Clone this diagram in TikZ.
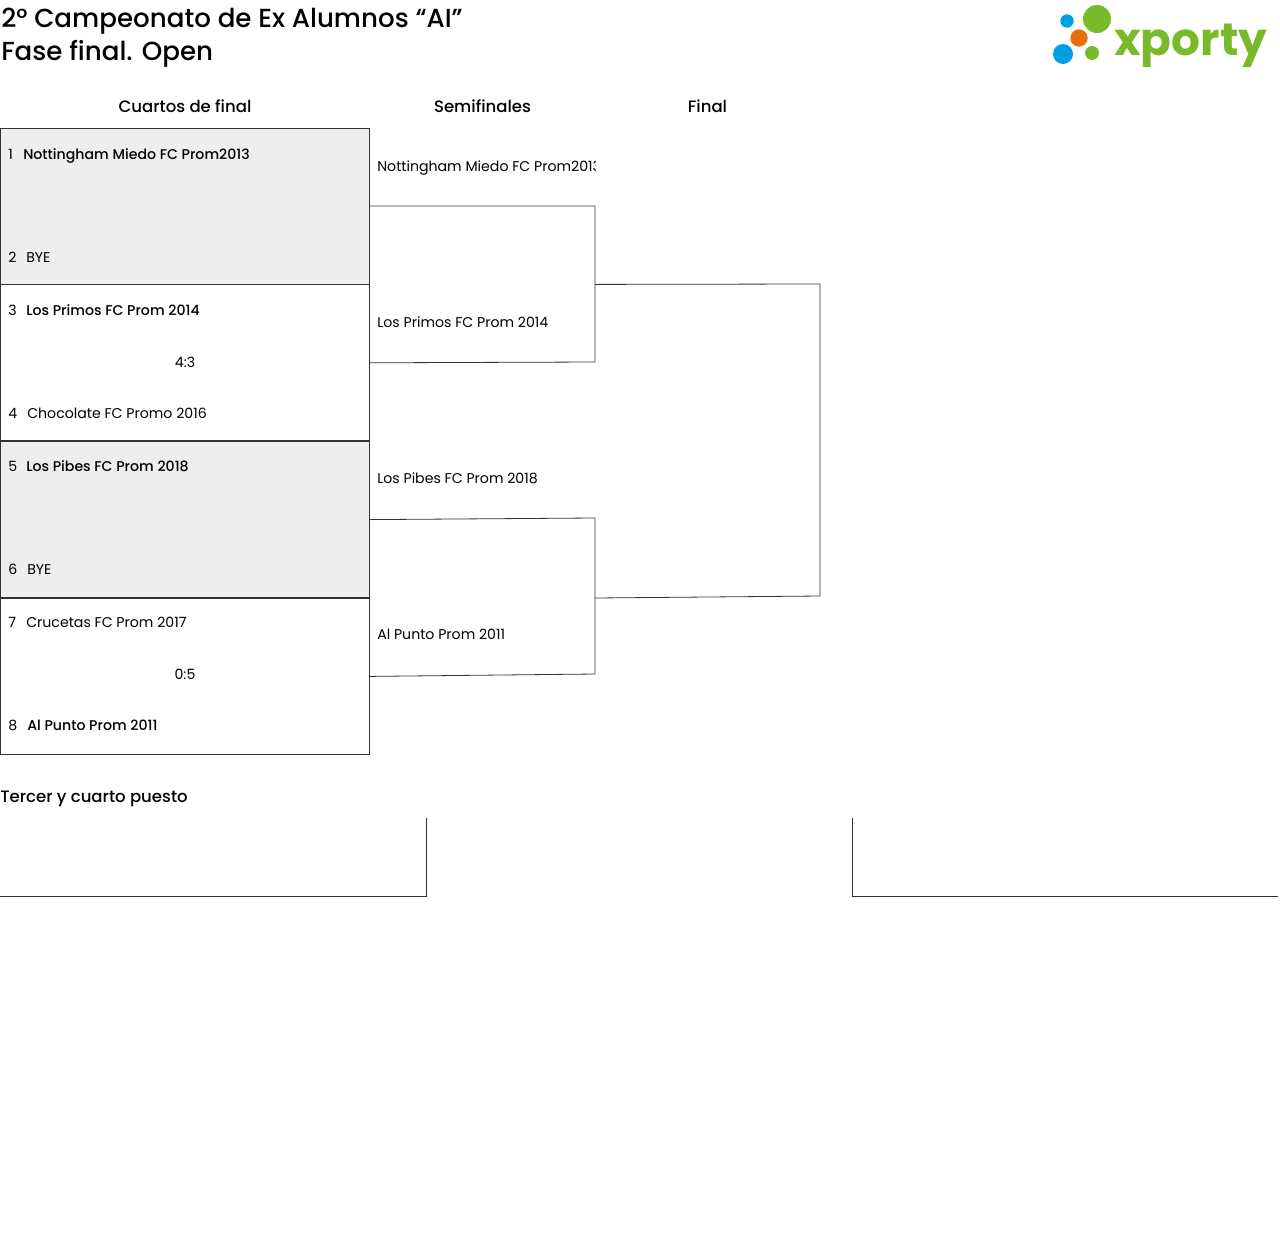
\documentclass[tikz,border=0pt]{standalone}
\usepackage{fontspec}
\setmainfont{Poppins}
\newfontfamily\medfont{Poppins Medium}
\usetikzlibrary{positioning}
\definecolor{byegray}{HTML}{EEEEEE}
\definecolor{linegray}{HTML}{333333}
\definecolor{xgreen}{HTML}{7AB929}
\definecolor{xblue}{HTML}{009FE3}
\definecolor{xorange}{HTML}{E8700C}
\tikzset{
	match/.style={draw=linegray, line width=0.6pt, minimum width=276.75pt, minimum height=117pt, inner sep=0pt},
	bye/.style={match, fill=byegray},
	bracket/.style={draw=linegray, line width=0.6pt},
	team/.style={anchor=base west, inner sep=0pt, font=\fontsize{10.6}{12}\selectfont},
	winner/.style={anchor=base west, inner sep=0pt, font=\medfont\fontsize{10.6}{12}\selectfont},
	score/.style={anchor=base, inner sep=0pt, font=\fontsize{10.6}{12}\selectfont},
	round/.style={anchor=base, inner sep=0pt, font=\medfont\fontsize{12.4}{14}\selectfont},
	headline/.style={anchor=base west, inner sep=0pt, font=\medfont\fontsize{19.6}{22}\selectfont},
	dot/.style={circle, inner sep=0pt, draw=none}
}
\begin{document}
\begin{tikzpicture}[x=0.75pt, y=-0.75pt]
	\useasboundingbox (0,0) rectangle (1280,1249);
	\node[headline] (title1) at (1,27) {2° Campeonato de Ex Alumnos “AI”};
	\node[headline] (title2) at (1,60) {Fase final. Open};
	% logo
	\node[dot, fill=xgreen, minimum size=21pt] (dot_a) at (1097,19) {};
	\node[dot, fill=xblue, minimum size=10pt] (dot_b) at (1067,21) {};
	\node[dot, fill=xorange, minimum size=13pt] (dot_c) at (1079,38) {};
	\node[dot, fill=xblue, minimum size=15pt] (dot_d) at (1063,54) {};
	\node[dot, fill=xgreen, minimum size=10.5pt] (dot_e) at (1092,53) {};
	\node[anchor=base west, inner sep=0pt, text=xgreen, font=\bfseries\fontsize{34}{36}\selectfont] (logo) at (1114,55) {xporty};
	% round names
	\node[round] (r_cuartos) at (185,112) {Cuartos de final};
	\node[round] (r_semi) at (482.5,112) {Semifinales};
	\node[round] (r_final) at (707.5,112) {Final};
	\node[round, anchor=base west] (r_tercer) at (0,802) {Tercer y cuarto puesto};
	% quarter finals
	\node[bye] (m_1) at (185,206) {};
	\node[match, below=0pt of m_1] (m_2) {};
	\node[bye, below=0pt of m_2] (m_3) {};
	\node[match, below=0pt of m_3] (m_4) {};
	\node[team] (n_1) at (8,159) {1};
	\node[winner] (t_1) at (23,159) {Nottingham Miedo FC Prom2013};
	\node[team] (n_2) at (8,262) {2};
	\node[team] (t_2) at (26,262) {BYE};
	\node[team] (n_3) at (8,315) {3};
	\node[winner] (t_3) at (26,315) {Los Primos FC Prom 2014};
	\node[score] (s_2) at (185,367) {4:3};
	\node[team] (n_4) at (8,418) {4};
	\node[team] (t_4) at (27,418) {Chocolate FC Promo 2016};
	\node[team] (n_5) at (8,471) {5};
	\node[winner] (t_5) at (26,471) {Los Pibes FC Prom 2018};
	\node[team] (n_6) at (8,574) {6};
	\node[team] (t_6) at (27,574) {BYE};
	\node[team] (n_7) at (8,627) {7};
	\node[team] (t_7) at (26,627) {Crucetas FC Prom 2017};
	\node[score] (s_4) at (185,679) {0:5};
	\node[team] (n_8) at (8,730) {8};
	\node[winner] (t_8) at (27,730) {Al Punto Prom 2011};
	% semifinals
	\coordinate (sf_1a) at (595,206);
	\coordinate (sf_1b) at (595,362);
	\coordinate (sf_2a) at (595,518);
	\coordinate (sf_2b) at (595,674);
	\coordinate (f_a) at (820,284);
	\coordinate (f_b) at (820,596);
	\draw[bracket] (m_1.east) -- (sf_1a) -- (sf_1b) -- (m_2.east);
	\draw[bracket] (m_3.east) -- (sf_2a) -- (sf_2b) -- (m_4.east);
	\draw[bracket] (sf_1a |- m_1.south) -- (f_a) -- (f_b) -- (sf_2a |- m_3.south);
	\begin{scope}
		\clip (370,130) rectangle (595,200);
		\node[team] (st_1) at (377,171) {Nottingham Miedo FC Prom2013};
	\end{scope}
	\node[team] (st_2) at (377,327) {Los Primos FC Prom 2014};
	\node[team] (st_3) at (377,483) {Los Pibes FC Prom 2018};
	\node[team] (st_4) at (377,639) {Al Punto Prom 2011};
	% third place
	\coordinate (p_a) at (0,896);
	\coordinate (p_b) at (426,896);
	\coordinate (p_c) at (426,818);
	\coordinate (p_d) at (852,818);
	\coordinate (p_e) at (852,896);
	\coordinate (p_f) at (1278,896);
	\draw[bracket] (p_a) -- (p_b) -- (p_c);
	\draw[bracket] (p_d) -- (p_e) -- (p_f);
\end{tikzpicture}
\end{document}
